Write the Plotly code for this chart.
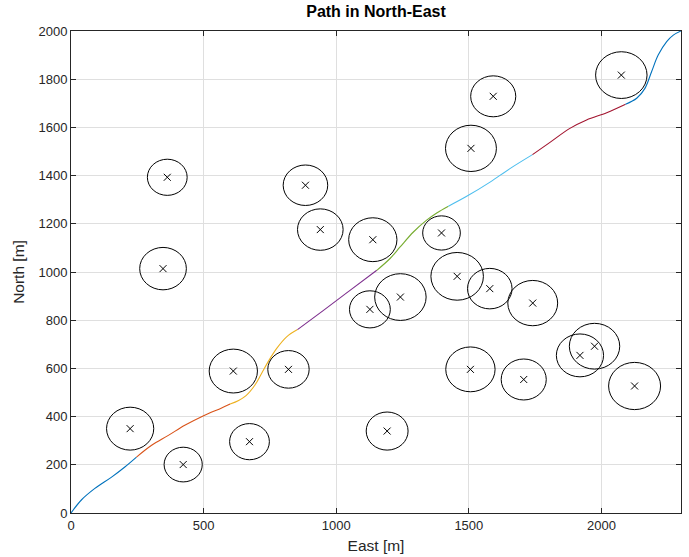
import numpy as np
import plotly.graph_objects as go

# Obstacles: centre East, centre North, radius [m]
obs_east = [223, 423, 612, 673, 820, 1127, 363, 347, 884, 940, 1138, 2075, 1592,
            1508, 1397, 1456, 1242, 1579, 1741, 1506, 1707, 1919, 1974, 2125, 1192]
obs_north = [350, 201, 589, 296, 596, 845, 1393, 1014, 1360, 1176, 1134, 1817, 1729,
             1513, 1162, 982, 896, 931, 871, 596, 554, 654, 692, 527, 340]
obs_radius = [89, 72, 91, 75, 78, 77, 75, 88, 84, 86, 91, 97, 85,
              96, 71, 99, 97, 84, 94, 93, 85, 89, 95, 98, 79]

# Path segments (East, North)
seg_east = [
    [0, 40, 90, 153, 203, 247],
    [247, 304, 367, 429, 498, 568, 600],
    [600, 632, 660, 693, 718, 743, 775, 812, 854],
    [854, 952, 1052, 1153],
    [1153, 1203, 1241, 1291, 1341, 1379, 1423],
    [1423, 1492, 1580, 1655, 1740],
    [1740, 1806, 1881, 1944, 2020, 2091],
    [2091, 2133, 2164, 2189, 2214, 2246, 2271, 2300],
]
seg_north = [
    [0, 55, 102, 149, 191, 232],
    [232, 281, 322, 364, 403, 436, 452],
    [452, 467, 487, 530, 578, 627, 682, 730, 761],
    [761, 841, 924, 1007],
    [1007, 1056, 1104, 1166, 1215, 1245, 1273],
    [1273, 1314, 1373, 1429, 1487],
    [1487, 1538, 1596, 1631, 1661, 1696],
    [1696, 1721, 1762, 1831, 1900, 1956, 1983, 2000],
]
seg_colors = ["#0072BD", "#D95319", "#EDB120", "#7E2F8E",
              "#77AC30", "#4DBEEE", "#A2142F", "#0072BD"]

x_ticks = [0, 500, 1000, 1500, 2000]
y_ticks = [0, 200, 400, 600, 800, 1000, 1200, 1400, 1600, 1800, 2000]

FONT = "Liberation Sans, Arial, sans-serif"

fig = go.Figure()

for ex, ny, c in zip(seg_east, seg_north, seg_colors):
    fig.add_trace(go.Scatter(x=ex, y=ny, mode="lines",
                             line=dict(color=c, width=1.1, shape="spline", smoothing=1.0),
                             showlegend=False, hoverinfo="skip"))

fig.add_trace(go.Scatter(x=obs_east, y=obs_north, mode="markers",
                         marker=dict(symbol="x-thin", size=7, color="black",
                                     line=dict(color="black", width=1)),
                         showlegend=False))

shapes = []
for cx, cy, r in zip(obs_east, obs_north, obs_radius):
    shapes.append(dict(type="circle", xref="x", yref="y",
                       x0=cx - r, x1=cx + r, y0=cy - r, y1=cy + r,
                       line=dict(color="black", width=1), layer="above"))

axis_common = dict(
    showgrid=True, gridcolor="#dfdfdf", gridwidth=1,
    showline=True, linecolor="#262626", linewidth=1, mirror="allticks",
    ticks="inside", ticklen=5, tickcolor="#262626", tickwidth=1,
    zeroline=False, automargin=False,
    tickfont=dict(family=FONT, size=13, color="#262626"),
)

fig.update_layout(
    width=689, height=557,
    margin=dict(l=71, r=8, t=31, b=44),
    paper_bgcolor="white", plot_bgcolor="white",
    shapes=shapes,
    showlegend=False,
    title=dict(text="<b>Path in North-East</b>", x=0.5 * (71 + 681) / 689, xanchor="center",
               y=1 - 11 / 557, yanchor="middle", yref="container",
               font=dict(family=FONT, size=16, color="black")),
    xaxis=dict(range=[0, 2300], tickvals=x_ticks,
               title=dict(text="East [m]", standoff=8,
                          font=dict(family=FONT, size=15.5, color="#262626")),
               **axis_common),
    yaxis=dict(range=[0, 2000], tickvals=y_ticks,
               title=dict(text="North [m]", standoff=10,
                          font=dict(family=FONT, size=15.5, color="#262626")),
               **axis_common),
)

fig.write_html("out.html", config={"displayModeBar": False},
               post_script="document.body.style.margin='0';document.body.style.overflow='hidden';")
